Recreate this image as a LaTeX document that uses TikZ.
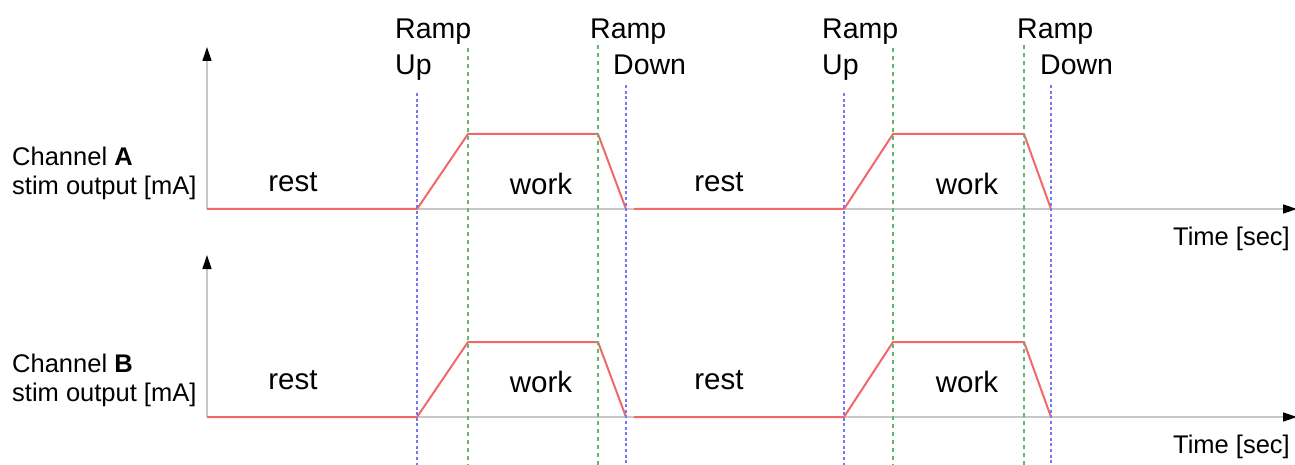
\documentclass[tikz,border=0pt]{standalone}
\usepackage{fontspec}
\setmainfont{Liberation Sans}
\usetikzlibrary{arrows.meta}

\definecolor{traceRed}{RGB}{242,104,104}
\definecolor{axisGray}{RGB}{200,200,200}
\definecolor{rampBlue}{RGB}{118,118,252}
\definecolor{plateauGreen}{RGB}{95,185,105}

\tikzset{
  axisline/.style={draw=axisGray, line width=1.3pt,
    -{Triangle[length=14pt,width=9pt,black]}},
  trace/.style={draw=traceRed, line width=2pt, line join=round},
  rampguide/.style={draw=rampBlue, line width=2.7pt, dash pattern=on 3pt off 2.6pt},
  plateauguide/.style={draw=plateauGreen, line width=1.6pt, dash pattern=on 4pt off 4pt},
  phase/.style={inner sep=0pt, font=\fontsize{29.5}{34}\selectfont},
  ramplabel/.style={inner sep=0pt, align=left, anchor=north west,
    font=\fontsize{28.5}{36}\selectfont},
  chanlabel/.style={inner sep=0pt, align=left, anchor=north west,
    font=\fontsize{25.5}{29}\selectfont},
  timelabel/.style={inner sep=0pt, anchor=base east,
    font=\fontsize{25.5}{29}\selectfont},
}

\begin{document}
\begin{tikzpicture}[x=1pt, y=-1pt]
\useasboundingbox (0,0) rectangle (1295,465);

% ---- axes for both channels ----
\foreach \ch/\b in {A/209, B/417} {
  \coordinate (\ch-o)   at (207,\b);
  \coordinate (\ch-top) at (207,\b-162);
  \coordinate (\ch-end) at (1297,\b);
  \draw[axisline] (\ch-o) -- (\ch-top);
  \draw[axisline] (\ch-o) -- (\ch-end);
}

% ---- stimulation envelopes ----
\foreach \ch/\b/\h in {A/209/134, B/417/342} {
  \coordinate (\ch-u1) at (417,\b);
  \coordinate (\ch-p1) at (468,\h);
  \coordinate (\ch-q1) at (598,\h);
  \coordinate (\ch-d1) at (626,\b);
  \coordinate (\ch-s2) at (634,\b);
  \coordinate (\ch-u2) at (844,\b);
  \coordinate (\ch-p2) at (893,\h);
  \coordinate (\ch-q2) at (1024,\h);
  \coordinate (\ch-d2) at (1051,\b);
  \draw[trace] (\ch-o) -- (\ch-u1) -- (\ch-p1) -- (\ch-q1) -- (\ch-d1);
  \draw[trace] (\ch-s2) -- (\ch-u2) -- (\ch-p2) -- (\ch-q2) -- (\ch-d2);
}

% ---- vertical guides: ramp edges (blue) and plateau edges (green) ----
\foreach \x/\t [count=\i] in {417/93, 626/85, 844/93, 1051/85} {
  \coordinate (rg\i-t) at (\x,\t);
  \coordinate (rg\i-b) at (\x,465);
  \draw[rampguide] (rg\i-t) -- (rg\i-b);
}
\foreach \x/\t [count=\i] in {468/48, 598/45, 893/48, 1024/45} {
  \coordinate (pg\i-t) at (\x,\t);
  \coordinate (pg\i-b) at (\x,465);
  \draw[plateauguide] (pg\i-t) -- (pg\i-b);
}

% ---- ramp labels ----
\node[ramplabel] (ru1) at (395,19) {Ramp\\Up};
\node[ramplabel] (rd1) at (590,19) {Ramp\\\hspace*{23pt}Down};
\node[ramplabel] (ru2) at (822,19) {Ramp\\Up};
\node[ramplabel] (rd2) at (1017,19) {Ramp\\\hspace*{23pt}Down};

% ---- channel labels ----
\node[chanlabel] (chA) at (12,147) {Channel \textbf{A}\\stim output [mA]};
\node[chanlabel] (chB) at (12,354) {Channel \textbf{B}\\stim output [mA]};

\node[timelabel] (tA) at (1290,245) {Time [sec]};
\node[timelabel] (tB) at (1290,453) {Time [sec]};

% ---- phase names ----
\node[phase, anchor=base] (restA1) at (293,192) {rest};
\node[phase, anchor=base] (workA1) at (541,194) {work};
\node[phase, anchor=base] (restA2) at (719,192) {rest};
\node[phase, anchor=base] (workA2) at (967,194) {work};
\node[phase, anchor=base] (restB1) at (293,389) {rest};
\node[phase, anchor=base] (workB1) at (541,392) {work};
\node[phase, anchor=base] (restB2) at (719,389) {rest};
\node[phase, anchor=base] (workB2) at (967,392) {work};
\end{tikzpicture}
\end{document}
